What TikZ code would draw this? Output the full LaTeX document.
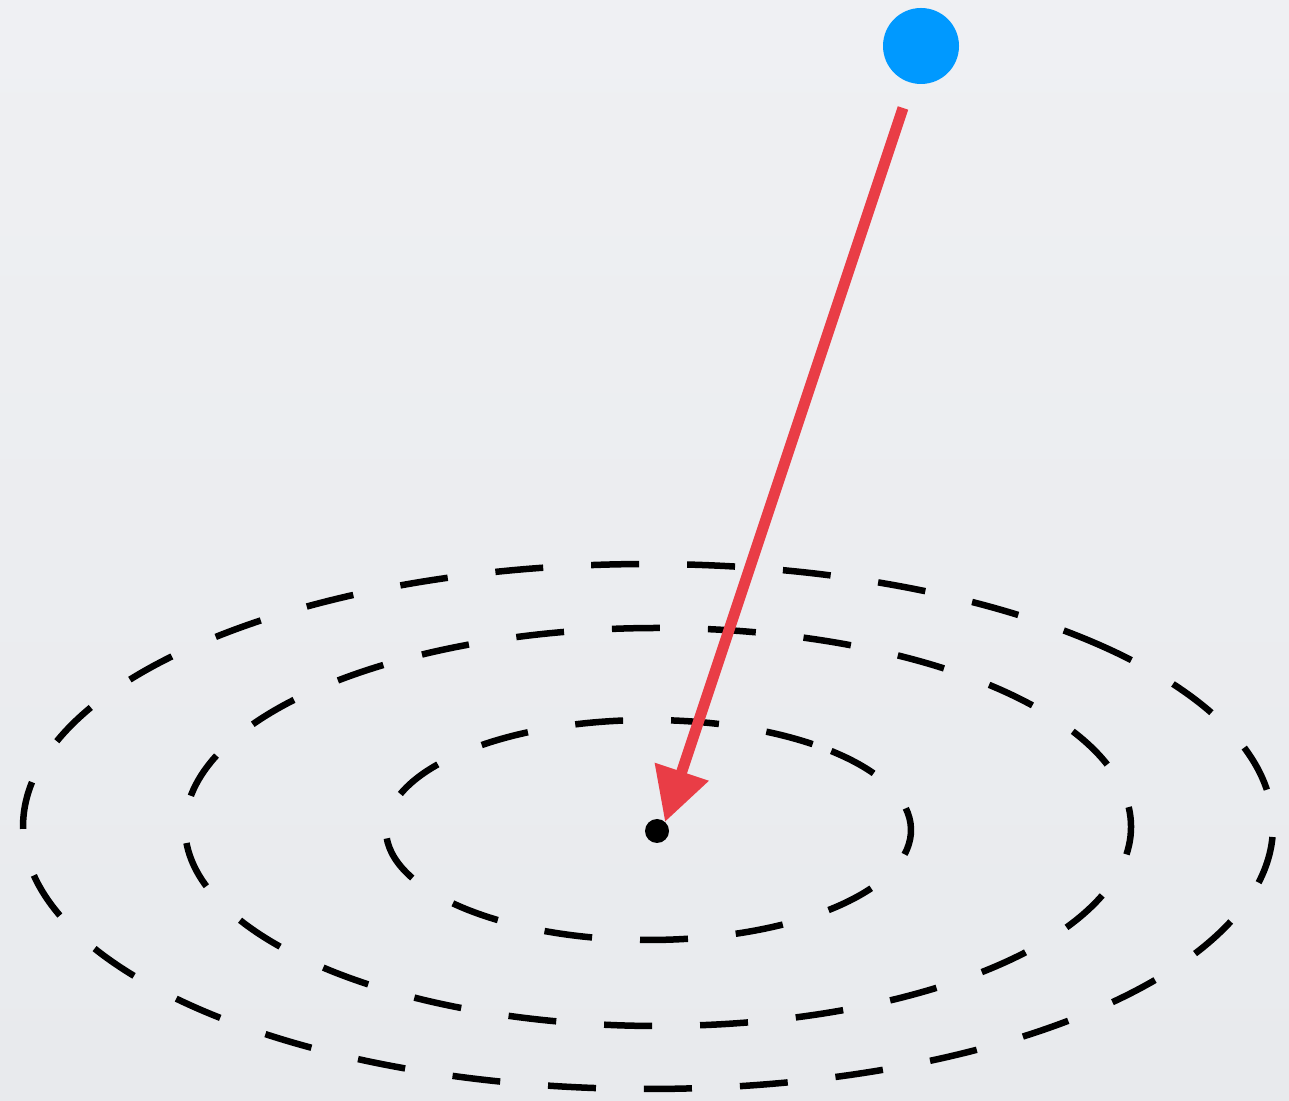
\documentclass[tikz,border=0pt]{standalone}
\usetikzlibrary{arrows.meta}
\definecolor{bgtop}{HTML}{EFF0F3}
\definecolor{bgbot}{HTML}{E8EAED}
\definecolor{dotblue}{HTML}{0099FF}
\definecolor{arrred}{HTML}{E93D46}
\begin{document}
\begin{tikzpicture}[x=1pt,y=1pt,
  ring/.style={draw=black,line width=6.5pt,dash pattern=on 48pt off 48pt},
  bluedot/.style={circle,fill=dotblue,inner sep=0pt,minimum size=76pt},
  blackdot/.style={circle,fill=black,inner sep=0pt,minimum size=24pt},
  pointer/.style={draw=arrred,line width=11pt,-{Triangle[length=53pt,width=54pt]}}]
  \shade[top color=bgtop,bottom color=bgbot] (0,0) rectangle (1289,1100);
  \useasboundingbox (0,0) rectangle (1289,1100);
  % rings
  \coordinate (oc) at (648,273.5);
  \coordinate (mc) at (658,273);
  \coordinate (ic) at (648.5,270);
  \draw[ring] (oc) ++(42.6:625 and 262.5) arc[start angle=42.6,end angle=402.6,x radius=625,y radius=262.5];
  \draw[ring] (mc) ++(125.5:473 and 199) arc[start angle=125.5,end angle=485.5,x radius=473,y radius=199];
  \draw[ring] (ic) ++(51.3:262.5 and 110) arc[start angle=51.3,end angle=411.3,x radius=262.5,y radius=110];
  % dots
  \node[bluedot] (sat) at (921,1054) {};
  \node[blackdot] (ctr) at (657,269) {};
  \coordinate (from) at (903,992);
  \coordinate (tip) at (665,278);
  \draw[pointer] (from) -- (tip);
\end{tikzpicture}
\end{document}
